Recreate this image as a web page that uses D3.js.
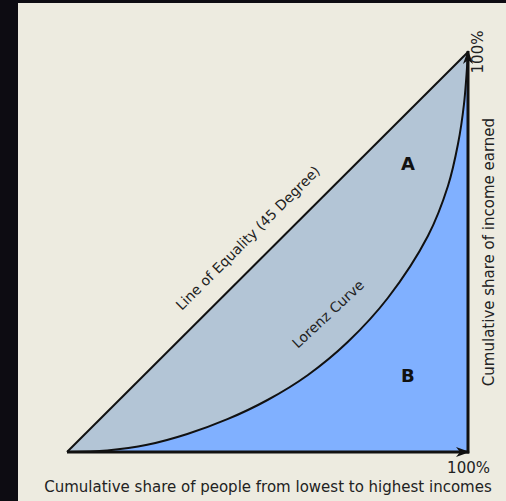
<!DOCTYPE html>
<html>
<head>
<meta charset="utf-8">
<script src="https://cdn.jsdelivr.net/npm/d3@7"></script>
<style>
  html, body { margin: 0; padding: 0; background: #0d0c12; }
  svg { display: block; }
</style>
</head>
<body>
<div id="chart"></div>
<script>
// Lorenz curve (share of people -> share of income)
const peopleShare = [0, 0.1, 0.2, 0.3, 0.4, 0.5, 0.6, 0.7, 0.8, 0.9, 0.95, 0.975, 0.99, 1];
const incomeShare = [0, 0.004, 0.018, 0.045, 0.082, 0.13, 0.192, 0.275, 0.385, 0.54, 0.665, 0.77, 0.87, 1];

// line of equality
const equalityX = [0, 1];
const equalityY = [0, 1];

const tickLabels = ["100%"];
const xTitle = "Cumulative share of people from lowest to highest incomes";
const yTitle = "Cumulative share of income earned";
const equalityLabel = "Line of Equality (45 Degree)";
const curveLabel = "Lorenz Curve";
const areaLabels = ["A", "B"];
const areaLabelX = [0.85, 0.85];
const areaLabelY = [0.72, 0.19];

const width = 506;
const height = 501;

const svg = d3.select("#chart")
  .append("svg")
  .attr("width", width)
  .attr("height", height);

// beige panel
svg.append("rect")
  .attr("x", 18)
  .attr("y", 3)
  .attr("width", width - 18)
  .attr("height", height - 3)
  .attr("fill", "#edebe0");

const x = d3.scaleLinear().domain([0, 1]).range([67, 468]);
const y = d3.scaleLinear().domain([0, 1]).range([452, 52]);

const lorenz = peopleShare.map((p, i) => ({ x: p, y: incomeShare[i] }));
const equality = equalityX.map((p, i) => ({ x: p, y: equalityY[i] }));

const smooth = d3.curveCatmullRom.alpha(0.5);

// area B (under the curve)
const areaB = d3.area()
  .x(d => x(d.x))
  .y0(y(0))
  .y1(d => y(d.y))
  .curve(smooth);

svg.append("path")
  .datum(lorenz)
  .attr("fill", "#80b0ff")
  .attr("d", areaB);

// area A (between equality line and curve)
const lineCurve = d3.line().x(d => x(d.x)).y(d => y(d.y)).curve(smooth);
const lineStraight = d3.line().x(d => x(d.x)).y(d => y(d.y));

svg.append("path")
  .attr("fill", "#b3c5d6")
  .attr("d", lineCurve(lorenz) + "L" + lineStraight(equality.slice().reverse()).slice(1) + "Z");

// curve and equality line
svg.append("path")
  .datum(lorenz)
  .attr("fill", "none")
  .attr("stroke", "#111")
  .attr("stroke-width", 2)
  .attr("d", lineCurve);

svg.append("path")
  .datum(equality)
  .attr("fill", "none")
  .attr("stroke", "#111")
  .attr("stroke-width", 2)
  .attr("d", lineStraight);

// arrow marker
const defs = svg.append("defs");
defs.append("marker")
  .attr("id", "arrow")
  .attr("viewBox", "0 0 14 10")
  .attr("refX", 13)
  .attr("refY", 5)
  .attr("markerUnits", "userSpaceOnUse")
  .attr("markerWidth", 14)
  .attr("markerHeight", 10)
  .attr("orient", "auto")
  .append("path")
  .attr("d", "M0,0 L14,5 L0,10 L4,5 Z")
  .attr("fill", "#111");

// axes: bottom and right
svg.append("line")
  .attr("x1", x(0)).attr("y1", y(0))
  .attr("x2", x(1) + 1).attr("y2", y(0))
  .attr("stroke", "#111")
  .attr("stroke-width", 3)
  .attr("marker-end", "url(#arrow)");

svg.append("line")
  .attr("x1", x(1)).attr("y1", y(0) + 1.5)
  .attr("x2", x(1)).attr("y2", y(1) - 1)
  .attr("stroke", "#111")
  .attr("stroke-width", 3)
  .attr("marker-end", "url(#arrow)");

const font = "DejaVu Sans, Verdana, sans-serif";

// tick labels
svg.append("text")
  .attr("x", 490)
  .attr("y", y(0) + 21)
  .attr("text-anchor", "end")
  .attr("font-family", font)
  .attr("font-size", 15)
  .attr("fill", "#222")
  .text(tickLabels[0]);

svg.append("text")
  .attr("transform", `translate(${x(1) + 15},${y(1)}) rotate(-90)`)
  .attr("text-anchor", "middle")
  .attr("font-family", font)
  .attr("font-size", 15)
  .attr("fill", "#222")
  .text(tickLabels[0]);

// axis titles
svg.append("text")
  .attr("x", 268)
  .attr("y", 492)
  .attr("text-anchor", "middle")
  .attr("font-family", font)
  .attr("font-size", 15)
  .attr("fill", "#222")
  .text(xTitle);

svg.append("text")
  .attr("transform", `translate(494,${y(0.5)}) rotate(-90)`)
  .attr("text-anchor", "middle")
  .attr("font-family", font)
  .attr("font-size", 15)
  .attr("fill", "#222")
  .text(yTitle);

// line labels
svg.append("text")
  .attr("transform", `translate(${x(0.451)},${y(0.535)}) rotate(-45)`)
  .attr("text-anchor", "middle")
  .attr("dy", "0.35em")
  .attr("font-family", font)
  .attr("font-size", 14)
  .attr("fill", "#222")
  .text(equalityLabel);

svg.append("text")
  .attr("transform", `translate(${x(0.651)},${y(0.345)}) rotate(-43)`)
  .attr("text-anchor", "middle")
  .attr("dy", "0.35em")
  .attr("font-family", font)
  .attr("font-size", 14)
  .attr("fill", "#222")
  .text(curveLabel);

// area labels
svg.selectAll(".area-label")
  .data(areaLabels)
  .join("text")
  .attr("class", "area-label")
  .attr("x", (d, i) => x(areaLabelX[i]))
  .attr("y", (d, i) => y(areaLabelY[i]))
  .attr("dy", "0.35em")
  .attr("text-anchor", "middle")
  .attr("font-family", font)
  .attr("font-size", 18)
  .attr("font-weight", "bold")
  .attr("fill", "#111")
  .text(d => d);
</script>
</body>
</html>
